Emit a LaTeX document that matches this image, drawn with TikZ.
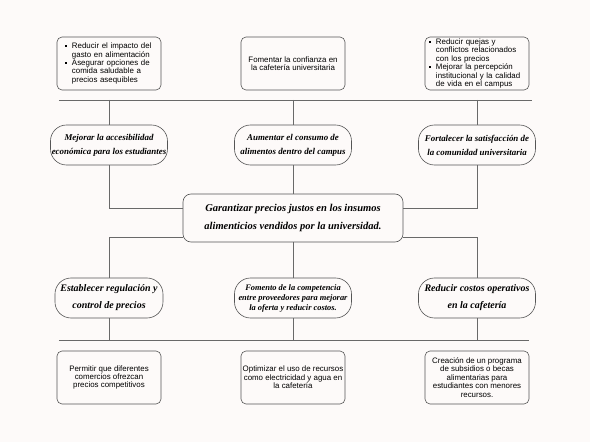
\documentclass[tikz,border=0pt]{standalone}
\usepackage{fontspec}
\setmainfont{Liberation Serif}
\setsansfont{Liberation Sans}
\usepackage{tikz}
\usetikzlibrary{shapes,arrows}
\definecolor{fondo}{RGB}{253,250,249}
\definecolor{gris}{RGB}{85,85,85}
\definecolor{grislinea}{RGB}{105,105,105}
\newcommand{\vineta}{\makebox[7pt][l]{\rule[1.8pt]{1.7pt}{1.7pt}}}
\newcommand{\sangria}{\hspace*{7pt}}
\tikzstyle{caja} = [draw=gris, rectangle, rounded corners=5pt, line width=0.6pt, minimum width=104pt, minimum height=53pt, inner sep=0pt, align=center, font=\sffamily\fontsize{7.9}{8.4}\selectfont]
\tikzstyle{meta} = [draw=gris, rectangle, rounded corners=16pt, line width=0.6pt, minimum width=117pt, minimum height=40pt, inner sep=0pt, align=center, font=\bfseries\itshape\fontsize{8.9}{14}\selectfont]
\tikzstyle{metag} = [meta, font=\bfseries\itshape\fontsize{10}{17}\selectfont]
\tikzstyle{objetivo} = [draw=gris, rectangle, rounded corners=8pt, line width=0.6pt, minimum width=220pt, minimum height=48pt, inner sep=0pt, align=center, font=\bfseries\itshape\fontsize{10.5}{18}\selectfont]
\tikzstyle{tmp} = [coordinate]
\tikzstyle{linea} = [draw=grislinea, line width=0.7pt]

\begin{document}
\begin{tikzpicture}[auto, x=1pt, y=1pt, node distance=184pt]
            \fill [fondo] (-293,218) rectangle (297,-224);
            \node [objetivo] (obj) {Garantizar precios justos en los insumos\\alimenticios vendidos por la universidad.};
            % fila de arriba
            \node [meta, above of=obj, node distance=73pt] (aumentar) {Aumentar el consumo de\\alimentos dentro del campus};
            \node [meta, left of=aumentar] (mejorar) {Mejorar la accesibilidad\\econ\'omica para los estudiantes};
            \node [meta, right of=aumentar] (fortalecer) {Fortalecer la satisfacci\'on de\\la comunidad universitaria};
            \node [caja, above of=aumentar, node distance=81.5pt] (confianza) {Fomentar la confianza en\\la cafeter\'ia universitaria};
            \node [caja, left of=confianza, text width=88pt, align=left] (impacto) {\vineta Reducir el impacto del\\\sangria gasto en alimentaci\'on\\\vineta Asegurar opciones de\\\sangria comida saludable a\\\sangria precios asequibles};
            \node [caja, right of=confianza, text width=96pt, align=left] (quejas) {\vineta Reducir quejas y\\\sangria conflictos relacionados\\\sangria con los precios\\\vineta Mejorar la percepci\'on\\\sangria institucional y la calidad\\\sangria de vida en el campus};
            % fila de abajo
            \node [meta, below of=obj, node distance=80pt, font=\bfseries\itshape\fontsize{8.4}{10}\selectfont] (fomento) {Fomento de la competencia\\entre proveedores para mejorar\\la oferta y reducir costos.};
            \node [metag, left of=fomento, minimum width=108pt] (regulacion) {Establecer regulaci\'on y\\control de precios};
            \node [metag, right of=fomento] (reducir) {Reducir costos operativos\\en la cafeter\'ia};
            \node [caja, below of=fomento, node distance=79.5pt] (recursos) {Optimizar el uso de recursos\\como electricidad y agua en\\la cafeter\'ia};
            \node [caja, left of=recursos] (comercios) {Permitir que diferentes\\comercios ofrezcan\\precios competitivos};
            \node [caja, right of=recursos] (becas) {Creaci\'on de un programa\\de subsidios o becas\\alimentarias para\\estudiantes con menores\\recursos.};
            % barras horizontales
            \node [tmp, above of=mejorar, node distance=45pt] (t1) {};
            \node [tmp, above of=aumentar, node distance=45pt] (t2) {};
            \node [tmp, above of=fortalecer, node distance=45pt] (t3) {};
            \node [tmp, left of=t1, node distance=50pt] (tizq) {};
            \node [tmp, right of=t3, node distance=55pt] (tder) {};
            \node [tmp, below of=regulacion, node distance=42pt] (b1) {};
            \node [tmp, below of=fomento, node distance=42pt] (b2) {};
            \node [tmp, below of=reducir, node distance=42pt] (b3) {};
            \node [tmp, left of=b1, node distance=50pt] (bizq) {};
            \node [tmp, right of=b3, node distance=52pt] (bder) {};

            \draw [linea] (tizq) -- (tder);
            \draw [linea] (t1) -- (mejorar);
            \draw [linea] (t2) -- (aumentar);
            \draw [linea] (t3) -- (fortalecer);
            \draw [linea] (mejorar) |- ([yshift=10pt]obj.west);
            \draw [linea] ([yshift=-19pt]obj.west) -| (regulacion);
            \draw [linea] (fortalecer) |- ([yshift=10pt]obj.east);
            \draw [linea] ([yshift=-19pt]obj.east) -| (reducir);
            \draw [linea] (aumentar) -- (obj);
            \draw [linea] (obj) -- (fomento);
            \draw [linea] (regulacion) -- (b1);
            \draw [linea] (fomento) -- (b2);
            \draw [linea] (reducir) -- (b3);
            \draw [linea] (bizq) -- (bder);
        \end{tikzpicture}
\end{document}
